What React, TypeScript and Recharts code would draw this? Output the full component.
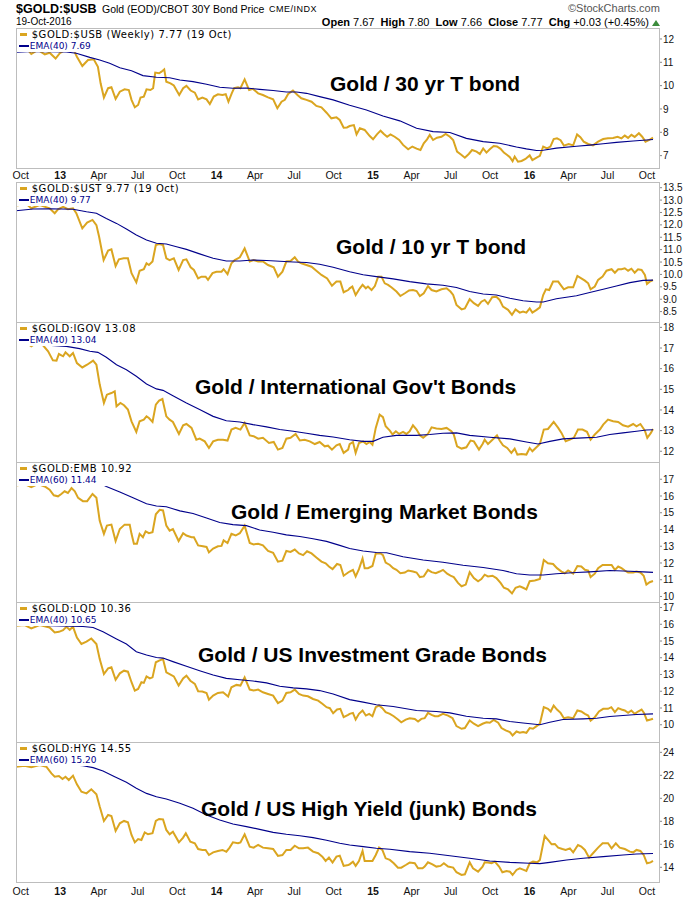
import React from "react";
import { LineChart, Line, XAxis, YAxis } from "recharts";

// x = weeks since 20 Sep 2012 (weekly bars)
const START_DATE = "2012-09-20";
const tickDates = [
  "2012-10-01", "2013-01-01", "2013-04-01", "2013-07-01", "2013-10-01", "2014-01-01",
  "2014-04-01", "2014-07-01", "2014-10-01", "2015-01-01", "2015-04-01", "2015-07-01",
  "2015-10-01", "2016-01-01", "2016-04-01", "2016-07-01", "2016-10-01",
];
const tickLabels = ["Oct", "13", "Apr", "Jul", "Oct", "14", "Apr", "Jul", "Oct", "15", "Apr", "Jul", "Oct", "16", "Apr", "Jul", "Oct"];

// $GOLD:$USB
const usbWeeks = [
  0, 3.5, 5.1, 7.3, 9.6, 11.2, 13.2, 14.6, 16.8, 19.2,
  20.3, 22.1, 24, 25.9, 27.3, 28.2, 29.3, 30.7, 31.8, 33.2,
  34.6, 36.2, 37.6, 38.5, 39.6, 40.7, 41.5, 42.6, 43.5, 44.8,
  45.7, 46.4, 47.7, 48.5, 49.4, 50.1, 51.5, 52.6, 54.4, 55.7,
  56.8, 58.2, 59.6, 60.7, 62.1, 63.5, 64.6, 65.9, 67.3, 68.8,
  69.9, 70.8, 71.9, 72.7, 74, 74.8, 76.2, 77.7, 79, 80.7,
  82.3, 84, 85.7, 87.1, 88.5, 89.6, 90.7, 92.3, 93.8, 95.1,
  96.8, 98.5, 100.1, 101.8, 103.5, 105.1, 106.8, 107.9, 109.2, 110.3,
  111.2, 112.6, 113.5, 114.6, 116.2, 117.9, 119, 120.3, 121.5, 122.6,
  123.7, 124.8, 126.2, 127.7, 129, 130.7, 132.1, 133.5, 134.8, 135.9,
  137, 137.9, 139, 140.3, 141.8, 143.2, 144.6, 145.7, 147, 148.5,
  149.6, 150.9, 152, 153.5, 154.6, 155.7, 156.8, 157.9, 159.2, 160.3,
  161.5, 162.6, 163.7, 164.6, 165.5, 166.2, 167.3, 168.5, 169.8, 171.2,
  172.1, 173.5, 174.6, 175.7, 177, 178.1, 179.2, 180.3, 181.5, 182.6,
  184.2, 185.7, 187, 188.1, 189.2, 190.7, 192.3, 194, 195.7, 197.3,
  199, 200.5, 201.8, 202.9, 204, 205.1, 206.2, 207.6, 208.7, 209.8,
  210.9, 212.3,
];
const usbRatio = [
  11.53, 11.6, 11.36, 11.53, 11.34, 11.41, 11.16, 11.39, 11.56, 11.53,
  11.24, 10.84, 11.1, 11.13, 10.81, 10.1, 9.49, 9.89, 9.93, 9.43,
  9.74, 9.84, 9.81, 9.39, 9.07, 9.17, 9.49, 9.53, 9.84, 9.81,
  9.89, 10.56, 10.53, 10.6, 10.7, 10.17, 10.1, 10.01, 9.6, 9.89,
  9.99, 9.79, 9.7, 9.41, 9.49, 9.41, 9.21, 9.53, 9.63, 9.6,
  9.63, 9.31, 9.67, 9.89, 9.93, 9.89, 10.27, 9.81, 9.86, 9.67,
  9.6, 9.5, 9.41, 9.03, 9.31, 9.39, 9.64, 9.79, 9.6, 9.46,
  9.39, 9.31, 9.13, 9.07, 8.84, 8.6, 8.64, 8.53, 8.2, 8.21,
  8.27, 8.31, 7.91, 8.17, 8.1, 7.84, 7.7, 7.91, 8.07, 7.93,
  7.81, 7.91, 7.81, 7.67, 7.46, 7.27, 7.39, 7.3, 7.24, 7.53,
  7.7, 7.89, 7.67, 7.77, 7.81, 7.93, 7.81, 7.67, 7.17, 7.03,
  6.91, 7.07, 7.24, 7.17, 7.07, 7.31, 7.13, 7.27, 7.41, 7.39,
  7.29, 7.13, 7.03, 6.93, 6.76, 6.96, 6.74, 6.77, 6.86, 7.01,
  6.81, 6.91, 6.99, 7.39, 7.31, 7.39, 7.71, 7.74, 7.66, 7.43,
  7.5, 7.44, 7.91, 7.79, 7.6, 7.5, 7.44, 7.6, 7.71, 7.74,
  7.76, 7.81, 7.74, 7.86, 7.76, 7.89, 7.8, 7.96, 7.81, 7.6,
  7.66, 7.77,
];
const usbEmaWeeks = [
  0, 5.7, 16.8, 20.1, 24.6, 27.9, 31.2, 34.6, 38.5, 42.3,
  46.8, 51.2, 54.6, 59, 63.5, 67.9, 72.3, 76.8, 81.2, 85.7,
  90.1, 93.5, 96.8, 101.2, 105.7, 111.2, 116.8, 122.3, 127.9, 133.5,
  139, 144.6, 150.1, 155.7, 161.2, 166.8, 170.1, 173.5, 175.7, 180.1,
  186.8, 191.2, 195.7, 200.1, 205.7, 212.3,
];
const usbEma = [
  11.43, 11.46, 11.44, 11.39, 11.21, 11.1, 10.96, 10.77, 10.64, 10.43,
  10.36, 10.34, 10.24, 10.17, 10.06, 9.93, 9.89, 9.9, 9.84, 9.79,
  9.73, 9.73, 9.67, 9.53, 9.39, 9.16, 8.96, 8.7, 8.49, 8.17,
  8.03, 7.99, 7.74, 7.6, 7.53, 7.37, 7.29, 7.22, 7.23, 7.32,
  7.4, 7.45, 7.51, 7.57, 7.63, 7.69,
];

// $GOLD:$UST
const ustWeeks = [
  0, 3.5, 5.1, 7.9, 11.2, 12.9, 14, 15.7, 17.3, 19,
  20.1, 22.1, 23.7, 25.5, 26.8, 27.7, 29.2, 30.7, 31.8, 33.2,
  34.3, 35.9, 37.3, 38.5, 40.1, 41.2, 42.6, 43.5, 44.3, 45.5,
  46.6, 47.7, 49, 50.1, 51.2, 52.6, 54.2, 55.7, 56.8, 58.2,
  59.3, 60.7, 61.8, 63.2, 64, 65.5, 66.8, 68.5, 69.2, 70.5,
  71.8, 72.9, 74.6, 76.2, 77.9, 79.2, 80.7, 82.3, 84, 85.9,
  87.3, 88.8, 90.1, 91.5, 92.9, 94, 95.1, 96.8, 98.5, 100.1,
  101.8, 103.7, 105.3, 106.8, 108.1, 109.2, 110.7, 111.2, 112.1, 113.2,
  114.6, 115.5, 116.6, 117.3, 118.5, 119.6, 120.7, 121.8, 122.9, 124,
  125.1, 126.8, 128.1, 129.6, 131, 132.3, 133.5, 134.6, 135.9, 137.3,
  138.5, 140.1, 141.8, 143.5, 144.8, 145.7, 146.8, 148.5, 149.6, 151.2,
  152.6, 154, 155.1, 156.2, 157.3, 158.7, 160.1, 161.2, 162.3, 164,
  165.3, 166.5, 167.9, 169, 170.1, 171.2, 172.1, 173.5, 174.6, 175.7,
  176.6, 177.7, 179, 180.7, 181.8, 182.6, 184, 185.7, 187.1, 188.4,
  189.6, 190.7, 191.5, 192.9, 194, 195.5, 196.8, 198.5, 199.6, 200.7,
  201.8, 202.9, 204, 205.1, 206.2, 207.3, 208.5, 209.6, 210.3, 211.2,
  212.3,
];
const ustRatio = [
  12.78, 12.84, 12.67, 12.8, 12.67, 12.47, 12.63, 12.73, 12.63, 12.67,
  12.47, 11.86, 12.09, 12.2, 11.99, 11.52, 10.58, 10.96, 11.01, 10.34,
  10.61, 10.65, 10.65, 10.05, 9.68, 10.15, 10.21, 10.45, 10.38, 10.52,
  11.19, 11.23, 11.19, 10.65, 10.58, 10.65, 10.18, 10.58, 10.61, 10.29,
  10.18, 9.84, 9.91, 9.91, 9.78, 10.05, 10.11, 10.11, 10.21, 10.01,
  10.45, 10.58, 10.69, 11.05, 10.52, 10.58, 10.52, 10.52, 10.38, 10.29,
  9.91, 10.11, 10.52, 10.54, 10.69, 10.52, 10.45, 10.38, 10.31, 10.15,
  9.98, 9.84, 9.54, 9.71, 9.71, 9.28, 9.37, 9.44, 9.51, 9.17,
  9.44, 9.58, 9.44, 9.51, 9.37, 9.53, 9.91, 9.91, 9.64, 9.58,
  9.48, 9.31, 9.13, 9.24, 9.35, 9.37, 9.33, 9.13, 9.24, 9.53,
  9.37, 9.31, 9.4, 9.44, 9.31, 9.17, 8.77, 8.59, 8.63, 9.0,
  8.84, 8.73, 8.9, 8.97, 8.81, 9.08, 9.1, 8.97, 8.7, 8.57,
  8.37, 8.59, 8.46, 8.5, 8.46, 8.63, 8.46, 8.57, 8.67, 9.17,
  9.4, 9.37, 9.71, 9.71, 9.53, 9.4, 9.48, 9.48, 9.94, 9.84,
  9.75, 9.64, 9.4, 9.51, 9.78, 9.91, 10.15, 10.21, 10.07, 10.21,
  10.21, 10.25, 10.15, 10.23, 10.07, 10.21, 10.18, 9.98, 9.62, 9.71,
  9.77,
];
const ustEmaWeeks = [
  0, 5.7, 11.2, 19, 23.5, 26.8, 30.1, 33.5, 36.8, 40.1,
  43.5, 46.8, 50.1, 53.5, 56.8, 61.2, 65.7, 70.1, 74.6, 79,
  83.5, 87.9, 92.4, 96.8, 101.2, 105.7, 111.2, 115.7, 120.1, 125.7,
  131.2, 136.8, 142.3, 146.8, 151.2, 155.7, 160.1, 164.6, 169, 173.5,
  175.7, 180.1, 186.8, 191.2, 195.7, 200.1, 204.6, 209, 212.3,
];
const ustEma = [
  12.57, 12.64, 12.65, 12.63, 12.53, 12.47, 12.26, 12.06, 11.83, 11.59,
  11.39, 11.26, 11.23, 11.12, 11.01, 10.83, 10.65, 10.54, 10.54, 10.58,
  10.56, 10.53, 10.5, 10.48, 10.41, 10.29, 10.11, 9.99, 9.91, 9.82,
  9.71, 9.62, 9.56, 9.47, 9.31, 9.21, 9.17, 9.04, 8.94, 8.89,
  8.89, 9.02, 9.14, 9.27, 9.4, 9.53, 9.67, 9.76, 9.77,
];

// $GOLD:IGOV
const igovWeeks = [
  0, 2.9, 5.1, 7.3, 9, 10.7, 12.3, 13.5, 14.3, 15.7,
  16.5, 17.9, 19, 20.3, 22.1, 23.7, 25.7, 26.8, 27.9, 29.3,
  30.3, 31.8, 32.9, 33.5, 34.8, 36, 37.3, 38.5, 40.1, 41.2,
  42.6, 43.5, 44.3, 45.5, 46.6, 47.7, 48.8, 50.1, 51.2, 52.3,
  54.3, 55.7, 56.8, 58.5, 60.1, 61.2, 62.9, 64.3, 65.7, 67.3,
  69, 70.5, 71.8, 73.2, 74.8, 76.2, 77.9, 79.2, 80.7, 82.3,
  84.3, 85.9, 87.3, 88.8, 90.1, 91.5, 93.2, 94.6, 96.2, 97.9,
  99.6, 101.2, 102.9, 104, 105.3, 106.8, 107.9, 109.2, 110.7, 111.2,
  112.3, 113.2, 114.3, 115.7, 116.8, 117.9, 118.8, 119.9, 121.2, 122.3,
  123.2, 124.6, 125.5, 126.6, 127.7, 129, 130.1, 131.2, 132.3, 133.5,
  134.6, 135.7, 137.3, 138.5, 140.1, 141.8, 143.5, 145.1, 145.9, 147,
  148.5, 150.1, 151.5, 152.6, 154.3, 155.5, 156.2, 157.3, 158.8, 160.3,
  161.2, 162.3, 163.7, 165.1, 166.2, 167.1, 168.5, 170.1, 171.2, 172.1,
  173.2, 174.6, 175.9, 177.3, 179.2, 180.7, 181.8, 183.2, 184.6, 185.9,
  187.3, 188.8, 190.3, 191.5, 192.9, 194.6, 195.7, 197.3, 199, 200.7,
  202.3, 204, 205.7, 206.8, 208.1, 209.6, 210.4, 211.6, 212.3,
];
const igovRatio = [
  17.24, 17.32, 17.08, 17.29, 17.13, 16.84, 16.4, 16.39, 16.71, 16.6,
  16.79, 16.6, 16.76, 16.27, 16.06, 16.19, 16.39, 16.19, 15.23, 14.34,
  14.74, 14.82, 14.9, 14.18, 14.34, 14.23, 14.02, 13.45, 12.94, 13.45,
  13.53, 13.69, 13.61, 13.42, 14.26, 14.45, 14.53, 13.69, 13.53, 13.42,
  12.84, 13.26, 13.32, 13.13, 12.56, 12.61, 12.48, 12.16, 12.48, 12.56,
  12.56, 12.52, 13.05, 13.13, 13.05, 13.37, 12.77, 12.73, 12.61, 12.65,
  12.4, 12.45, 12.08, 12.16, 12.61, 12.65, 12.84, 12.52, 12.56, 12.48,
  12.35, 12.45, 12.24, 12.27, 12.08, 12.29, 12.35, 11.92, 12.08, 12.35,
  12.45, 11.92, 12.4, 12.48, 12.35, 12.45, 12.32, 13.13, 13.77, 13.65,
  13.21, 13.0, 12.81, 12.97, 12.84, 12.94, 12.84, 12.97, 13.26, 13.05,
  12.77, 12.65, 12.84, 13.16, 13.1, 13.08, 13.13, 12.97, 12.81, 12.24,
  12.13, 12.19, 12.52, 12.48, 12.08, 12.35, 12.56, 12.35, 12.56, 12.77,
  12.52, 12.29, 12.16, 11.92, 12.13, 11.84, 11.87, 11.84, 12.16, 12.0,
  12.16, 12.35, 13.05, 13.08, 13.42, 13.13, 12.89, 12.48, 12.56, 12.65,
  13.05, 13.05, 12.94, 12.56, 12.81, 13.05, 13.29, 13.53, 13.45, 13.42,
  13.26, 13.19, 13.32, 13.21, 13.32, 13.0, 12.65, 12.89, 13.08,
];
const igovEmaWeeks = [
  0, 7.9, 16.8, 21.2, 24.6, 27.3, 30.1, 33.5, 36.8, 40.1,
  43.5, 46.8, 49, 52.3, 56.8, 61.2, 65.7, 70.1, 74.6, 79,
  83.5, 87.9, 92.4, 96.8, 101.2, 105.7, 111.2, 115.7, 119, 122.3,
  126.8, 133.5, 137.9, 142.3, 146.8, 151.2, 157.9, 164.6, 170.1, 174,
  177.9, 182.3, 189, 193.5, 197.9, 202.3, 206.8, 210.1, 212.3,
];
const igovEma = [
  17.19, 17.16, 17.08, 16.97, 16.84, 16.79, 16.55, 16.19, 15.95, 15.63,
  15.26, 15.02, 14.95, 14.69, 14.34, 14.02, 13.69, 13.48, 13.42, 13.29,
  13.18, 13.05, 12.97, 12.87, 12.77, 12.69, 12.56, 12.48, 12.48, 12.68,
  12.77, 12.77, 12.81, 12.87, 12.89, 12.77, 12.68, 12.6, 12.45, 12.35,
  12.48, 12.6, 12.65, 12.68, 12.81, 12.89, 12.97, 13.03, 13.04,
];

// $GOLD:EMB
const embWeeks = [
  0, 2.9, 5.1, 7.3, 9.6, 11.2, 12.6, 14, 15.1, 16.2,
  17.3, 18.5, 19.6, 20.7, 22.3, 23.7, 25.5, 26.8, 27.9, 29.3,
  30.3, 31.8, 33.2, 34.6, 36.2, 37.9, 38.5, 39.3, 40.3, 41.2,
  42.3, 43.2, 44.3, 45.5, 46.6, 47.9, 49, 50.1, 51.2, 52.3,
  54.2, 55.7, 56.8, 58.5, 59.3, 60.7, 62.3, 63.5, 64.3, 65.7,
  67.3, 68.5, 69.2, 70.5, 71.8, 73.2, 74.6, 76.2, 77.9, 79.2,
  80.7, 82.3, 84, 85.7, 87.3, 88.8, 90.1, 91.5, 92.9, 94.3,
  95.7, 97, 98.5, 100.1, 101.8, 103.2, 104.3, 105.5, 107, 108.1,
  109.2, 110.7, 111.2, 112.3, 113.2, 114.3, 115.5, 116.2, 117.3, 118.8,
  119.9, 121.5, 122.3, 123.2, 124.6, 125.7, 126.8, 128.1, 129.6, 130.7,
  132.3, 133.5, 134.6, 135.9, 137.3, 138.5, 139.9, 141.2, 142.3, 143.7,
  144.8, 145.9, 147.3, 148.5, 149.9, 151.2, 152.6, 154, 155.1, 156.2,
  157.3, 158.8, 160.1, 161.5, 162.6, 164, 165.3, 166.5, 167.9, 169,
  170.1, 171.2, 172.9, 174.6, 175.9, 177.3, 179, 180.3, 181.8, 182.9,
  184, 185.7, 187.1, 188.4, 189.6, 190.7, 191.5, 192.9, 194, 195.5,
  196.8, 198.5, 199.6, 200.7, 201.8, 202.9, 204, 205.7, 206.8, 208.1,
  209.2, 210.1, 211.2, 212.3,
];
const embRatio = [
  16.63, 16.71, 16.53, 16.71, 16.57, 16.38, 16.04, 15.98, 16.12, 16.28,
  16.18, 16.47, 16.28, 15.89, 15.69, 15.69, 16.12, 15.89, 14.52, 13.74,
  14.23, 14.29, 13.31, 14.03, 14.29, 14.29, 13.74, 13.15, 13.15, 13.74,
  13.54, 13.89, 13.78, 13.84, 14.91, 15.18, 15.14, 14.23, 13.93, 14.03,
  13.31, 13.78, 13.64, 13.54, 13.54, 13.05, 13.0, 12.96, 12.63, 12.86,
  13.0, 13.02, 13.35, 13.19, 13.74, 13.64, 13.78, 14.23, 13.19, 13.11,
  13.15, 13.05, 12.72, 12.61, 12.08, 12.14, 12.72, 12.66, 12.8, 12.57,
  12.47, 12.7, 12.57, 12.33, 12.08, 11.98, 11.79, 11.63, 11.94, 11.88,
  11.24, 11.43, 11.49, 11.59, 11.2, 11.63, 12.27, 11.69, 11.69, 11.82,
  12.57, 12.57, 12.47, 12.02, 11.88, 11.69, 11.59, 11.39, 11.43, 11.55,
  11.49, 11.43, 11.16, 11.2, 11.59, 11.45, 11.39, 11.49, 11.59, 11.36,
  11.24, 11.16, 10.81, 10.61, 10.71, 11.45, 11.1, 10.91, 11.04, 11.3,
  11.2, 11.24, 11.1, 10.81, 10.52, 10.42, 10.18, 10.52, 10.61, 10.52,
  10.42, 10.91, 10.96, 11.04, 12.18, 11.98, 11.94, 11.69, 11.49, 11.39,
  11.55, 11.36, 11.82, 11.79, 11.59, 11.55, 11.16, 11.36, 11.69, 11.88,
  11.88, 11.88, 11.59, 11.79, 11.69, 11.55, 11.43, 11.43, 11.49, 11.43,
  11.24, 10.71, 10.85, 10.92,
];
const embEmaWeeks = [
  0, 11.2, 20.1, 26.8, 30.1, 34.6, 39, 43.5, 46.8, 50.1,
  54.6, 59, 63.5, 67.9, 72.3, 76.8, 81.2, 85.7, 90.1, 94.6,
  99, 103.5, 107.9, 111.2, 115.7, 120.1, 123.5, 129, 135.7, 142.3,
  149, 155.7, 162.3, 166.8, 171.2, 175.7, 180.1, 186.8, 191.2, 197.9,
  204.6, 209, 212.3,
];
const embEma = [
  17.41, 17.29, 17.1, 16.86, 16.57, 16.24, 15.89, 15.54, 15.4, 15.36,
  15.11, 14.95, 14.68, 14.42, 14.29, 14.23, 13.97, 13.84, 13.68, 13.58,
  13.45, 13.29, 13.05, 12.86, 12.72, 12.63, 12.61, 12.37, 12.18, 12.04,
  11.86, 11.73, 11.55, 11.36, 11.28, 11.28, 11.36, 11.43, 11.47, 11.55,
  11.51, 11.47, 11.44,
];

// $GOLD:LQD
const lqdWeeks = [
  0, 2.9, 5.1, 7.9, 11.2, 12.9, 14.3, 15.7, 16.8, 17.9,
  19, 20.3, 21.8, 23.5, 25.1, 26.8, 27.9, 29.3, 30.7, 31.8,
  33.2, 34.6, 36, 37.3, 38.5, 39.6, 40.7, 41.8, 42.6, 43.5,
  44.6, 45.5, 46.6, 47.7, 49, 50.1, 51.2, 52.6, 54.2, 55.7,
  56.8, 58.1, 59.6, 60.7, 62.1, 63.5, 64.3, 65.7, 67.3, 69,
  70.7, 71.8, 73.5, 74.8, 76.2, 77.9, 79.2, 80.7, 82.3, 84,
  85.7, 87.3, 88.8, 90.1, 91.5, 92.9, 94.3, 95.7, 97.3, 99,
  100.7, 102.1, 103.5, 104.6, 105.7, 107, 108.1, 109.2, 110.7, 111.2,
  112.3, 113.2, 114.3, 115.5, 116.6, 117.7, 118.8, 119.9, 121, 122.1,
  123.2, 124.6, 125.9, 127.3, 128.4, 129.9, 131.2, 132.9, 134, 135.1,
  136.2, 137.3, 138.5, 139.6, 140.7, 142.3, 144, 145.5, 146.8, 148.5,
  149.6, 151.2, 152.6, 154, 155.5, 156.8, 157.9, 159.2, 160.7, 161.8,
  163.2, 164.6, 165.5, 166.8, 167.9, 169, 170.1, 171.2, 172.3, 173.5,
  174.6, 175.9, 177.3, 178.2, 179.2, 180.3, 181.5, 182.6, 184, 185.7,
  187.1, 188.4, 189.6, 190.7, 191.5, 192.9, 194.3, 195.7, 197.3, 198.4,
  199.6, 200.7, 201.8, 202.9, 204, 205.1, 206.2, 207.3, 208.5, 209.3,
  210.3, 211.5, 212.3,
];
const lqdRatio = [
  15.91, 15.95, 15.75, 15.95, 15.81, 15.51, 15.55, 15.65, 15.85, 15.67,
  15.85, 15.21, 14.82, 14.96, 15.15, 14.82, 13.92, 13.03, 13.37, 13.43,
  12.69, 13.07, 13.23, 13.17, 12.54, 12.04, 12.14, 12.54, 12.5, 12.89,
  12.77, 12.83, 13.73, 13.83, 13.92, 13.13, 13.03, 12.89, 12.34, 12.77,
  12.93, 12.63, 12.44, 12.0, 11.98, 11.9, 11.5, 11.74, 11.9, 11.94,
  11.68, 12.24, 12.38, 12.34, 12.83, 12.1, 12.04, 12.1, 11.94, 11.84,
  11.74, 11.29, 11.44, 11.9, 11.94, 12.1, 11.84, 11.74, 11.7, 11.54,
  11.44, 11.25, 11.05, 10.99, 10.69, 10.91, 10.95, 10.45, 10.59, 10.65,
  10.71, 10.31, 10.65, 10.85, 10.55, 10.65, 10.51, 11.05, 11.15, 10.99,
  10.75, 10.65, 10.51, 10.31, 10.15, 10.31, 10.39, 10.35, 10.19, 10.35,
  10.39, 10.71, 10.59, 10.51, 10.51, 10.65, 10.55, 10.39, 9.92, 9.76,
  9.8, 10.25, 10.06, 9.92, 10.06, 10.15, 10.12, 10.29, 10.12, 9.8,
  9.66, 9.56, 9.36, 9.6, 9.52, 9.56, 9.52, 9.8, 9.76, 9.92,
  10.06, 11.05, 10.95, 10.79, 11.15, 10.91, 10.71, 10.39, 10.45, 10.39,
  10.85, 10.79, 10.65, 10.55, 10.25, 10.45, 10.79, 10.95, 10.95, 11.05,
  10.75, 10.99, 10.91, 10.85, 10.71, 10.85, 10.65, 10.79, 10.91, 10.71,
  10.25, 10.31, 10.36,
];
const lqdEmaWeeks = [
  0, 11.2, 22.3, 25.7, 29, 33.5, 36.8, 40.1, 43.5, 46.8,
  49, 52.3, 56.8, 61.2, 65.7, 70.1, 74.6, 79, 83.5, 87.9,
  92.4, 96.8, 101.2, 105.7, 111.2, 115.7, 120.1, 125.7, 133.5, 140.1,
  144.6, 150.1, 155.7, 160.1, 164.6, 169, 174.6, 177.9, 182.3, 189,
  193.5, 197.9, 202.3, 206.8, 212.3,
];
const lqdEma = [
  16.01, 15.91, 15.87, 15.81, 15.55, 15.12, 14.82, 14.36, 14.16, 14.02,
  13.98, 13.77, 13.49, 13.23, 12.97, 12.77, 12.69, 12.61, 12.5, 12.3,
  12.2, 12.14, 12.04, 11.84, 11.5, 11.35, 11.19, 11.09, 10.85, 10.79,
  10.71, 10.51, 10.39, 10.35, 10.19, 10.1, 10.0, 10.15, 10.31, 10.35,
  10.39, 10.49, 10.55, 10.61, 10.65,
];

// $GOLD:HYG
const hygWeeks = [
  0, 2.9, 5.1, 7.9, 10.1, 11.8, 12.9, 14.3, 15.5, 16.5,
  17.6, 19, 20.3, 21.8, 23.5, 25.1, 26.8, 27.9, 29.3, 30.7,
  31.8, 33.2, 34.6, 36, 37.3, 38.5, 39.6, 40.7, 41.8, 42.9,
  44, 45.5, 46.6, 47.7, 49, 50.1, 51.2, 52.3, 54.3, 55.7,
  56.6, 58.1, 59.6, 60.7, 62.1, 63.2, 64.3, 65.7, 67.3, 68.8,
  70.1, 71.2, 72.3, 74, 74.8, 76.2, 77.9, 79.2, 80.7, 82.3,
  84, 85.7, 87.3, 88.8, 90.1, 91.5, 92.9, 94.3, 95.7, 97.3,
  99, 100.7, 102.1, 103.2, 104.3, 105.5, 106.8, 107.9, 109.2, 110.7,
  111.2, 112.3, 113.2, 114.3, 115.5, 116.2, 117.7, 118.8, 119.9, 121,
  122.1, 123.2, 124.6, 125.9, 127.3, 128.4, 129.9, 131.2, 132.9, 134,
  135.5, 136.2, 137.3, 138.8, 140.1, 141.5, 142.6, 144, 145.7, 146.8,
  148.5, 149.6, 151.2, 152.3, 154, 155.5, 156.2, 157.3, 158.5, 159.6,
  161, 162.1, 163.5, 164.6, 165.5, 166.8, 167.9, 169, 170.1, 171.2,
  172.3, 173.7, 174.6, 176.2, 177.6, 178.5, 179.6, 180.7, 182.1, 183.2,
  184.6, 185.7, 187.3, 188.4, 189.6, 191, 192.3, 194, 195.5, 197.3,
  198.5, 199.9, 201.2, 202.9, 204.6, 205.7, 206.8, 208.1, 209.2, 210.3,
  211.5, 212.3,
];
const hygRatio = [
  22.75, 22.84, 22.7, 22.9, 22.75, 22.17, 21.88, 21.94, 21.68, 21.88,
  21.59, 21.97, 21.22, 20.58, 20.43, 20.78, 20.35, 19.28, 18.03, 18.55,
  18.46, 17.16, 17.83, 18.03, 17.91, 16.81, 16.17, 16.46, 16.38, 17.04,
  16.87, 16.96, 18.03, 18.2, 18.17, 17.25, 16.87, 17.1, 16.17, 16.58,
  16.96, 16.23, 16.09, 15.59, 15.51, 15.51, 15.07, 15.3, 15.42, 15.51,
  15.36, 15.71, 16.17, 16.09, 16.17, 16.87, 15.8, 15.71, 15.94, 15.71,
  15.65, 15.59, 14.99, 15.07, 15.51, 15.51, 15.88, 15.65, 15.65, 15.71,
  15.36, 15.22, 14.93, 14.55, 14.84, 14.41, 14.93, 15.01, 14.12, 14.2,
  14.26, 14.49, 14.12, 14.55, 15.42, 14.55, 14.55, 14.55, 15.07, 15.71,
  15.51, 14.78, 14.64, 14.35, 13.97, 13.97, 14.2, 14.41, 14.35, 13.91,
  13.91, 14.06, 14.43, 14.26, 14.06, 14.12, 14.35, 14.06, 13.97, 13.57,
  13.33, 13.39, 14.43, 13.91, 13.62, 14.06, 14.43, 14.41, 14.35, 14.49,
  14.06, 13.57, 13.68, 13.62, 13.33, 13.77, 13.91, 13.8, 13.68, 14.35,
  14.49, 14.43, 14.64, 16.72, 16.29, 16.0, 16.03, 15.71, 15.59, 15.51,
  15.65, 15.3, 15.94, 15.8, 15.51, 14.84, 15.22, 15.71, 16.09, 16.09,
  15.65, 16.09, 15.71, 15.59, 15.36, 15.3, 15.51, 15.42, 15.07, 14.35,
  14.43, 14.55,
];
const hygEmaWeeks = [
  0, 11.2, 22.3, 25.7, 29, 32.9, 36.8, 40.1, 43.5, 46.8,
  50.1, 54.6, 59, 63.5, 67.9, 72.3, 76.8, 81.2, 85.7, 90.1,
  94.6, 99, 103.5, 107.9, 111.2, 115.7, 120.1, 124.6, 131.2, 137.9,
  144.6, 151.2, 157.9, 164.6, 171.2, 174.6, 177.9, 183.5, 189, 195.7,
  202.3, 206.8, 212.3,
];
const hygEma = [
  23.25, 23.07, 22.84, 22.67, 22.38, 21.88, 21.39, 20.87, 20.43, 20.14,
  19.94, 19.57, 19.13, 18.55, 18.12, 17.77, 17.54, 17.3, 17.04, 16.87,
  16.75, 16.58, 16.35, 16.09, 15.94, 15.8, 15.65, 15.57, 15.36, 15.22,
  15.01, 14.78, 14.55, 14.43, 14.35, 14.32, 14.43, 14.64, 14.78, 14.93,
  15.07, 15.16, 15.2,
];

const FONT = '"Liberation Sans", Arial, Helvetica, sans-serif';
const GOLD = "#DAA520";
const NAVY = "#00008B";
const BORDER = "#bdbdbd";
const WEEK_MS = 7 * 24 * 3600 * 1000;
const tickWeeks = tickDates.map((d) => (Date.parse(d) - Date.parse(START_DATE)) / WEEK_MS);
const X_DOMAIN: [number, number] = [0, 214.3];

const zip = (ws: number[], vs: number[]) => ws.map((w, i) => ({ w, v: vs[i] }));

const panels = [
  {
    top: 28, axisH: 14, tickDy: 11, domain: [6.47, 12.47], ticks: [7, 8, 9, 10, 11, 12], dec: 0,
    gold: zip(usbWeeks, usbRatio), ema: zip(usbEmaWeeks, usbEma),
    leg1: "$GOLD:$USB (Weekly) 7.77 (19 Oct)", leg2: "EMA(40) 7.69",
  },
  {
    top: 182, axisH: 0, tickDy: 0, domain: [8.08, 13.73], ticks: [8.5, 9, 9.5, 10, 10.5, 11, 11.5, 12, 12.5, 13, 13.5], dec: 1,
    gold: zip(ustWeeks, ustRatio), ema: zip(ustEmaWeeks, ustEma),
    leg1: "$GOLD:$UST 9.77 (19 Oct)", leg2: "EMA(40) 9.77",
  },
  {
    top: 322, axisH: 0, tickDy: 0, domain: [11.48, 18.26], ticks: [12, 13, 14, 15, 16, 17, 18], dec: 0,
    gold: zip(igovWeeks, igovRatio), ema: zip(igovEmaWeeks, igovEma),
    leg1: "$GOLD:IGOV 13.08", leg2: "EMA(40) 13.04",
  },
  {
    top: 462, axisH: 0, tickDy: 0, domain: [9.67, 18.03], ticks: [10, 11, 12, 13, 14, 15, 16, 17], dec: 0,
    gold: zip(embWeeks, embRatio), ema: zip(embEmaWeeks, embEma),
    leg1: "$GOLD:EMB 10.92", leg2: "EMA(60) 11.44",
  },
  {
    top: 602, axisH: 0, tickDy: 0, domain: [8.97, 17.33], ticks: [10, 11, 12, 13, 14, 15, 16, 17], dec: 0,
    gold: zip(lqdWeeks, lqdRatio), ema: zip(lqdEmaWeeks, lqdEma),
    leg1: "$GOLD:LQD 10.36", leg2: "EMA(40) 10.65",
  },
  {
    top: 742, axisH: 18, tickDy: 12.5, domain: [12.72, 24.9], ticks: [14, 16, 18, 20, 22, 24], dec: 0,
    gold: zip(hygWeeks, hygRatio), ema: zip(hygEmaWeeks, hygEma),
    leg1: "$GOLD:HYG 14.55", leg2: "EMA(60) 15.20",
  },
];

const titles = [
  { text: "Gold / 30 yr T bond", left: 330, top: 73 },
  { text: "Gold / 10 yr T bond", left: 336, top: 236 },
  { text: "Gold / International Gov't Bonds", left: 195, top: 376 },
  { text: "Gold / Emerging Market Bonds", left: 231, top: 501 },
  { text: "Gold / US Investment Grade Bonds", left: 198, top: 644 },
  { text: "Gold / US High Yield (junk) Bonds", left: 201, top: 798 },
];

function DateTick(props: any) {
  const { x, y, payload, dy } = props;
  const i = tickWeeks.indexOf(payload.value);
  const label = i >= 0 ? tickLabels[i] : "";
  const isYear = /^\d+$/.test(label);
  return (
    <text x={x} y={y} dy={dy} textAnchor="middle" fontSize={10.5} fontFamily={FONT}
      fontWeight={isYear ? 700 : 400} fill="#111">
      {label}
    </text>
  );
}

function Panel({ p }: { p: (typeof panels)[number] }) {
  const h = 140 + p.axisH;
  return (
    <div style={{ position: "absolute", left: 0, top: p.top, width: 700, height: h }}>
      <LineChart width={700} height={h} margin={{ top: 0, right: 0, bottom: 0, left: 16 }}>
        <XAxis
          type="number" dataKey="w" domain={X_DOMAIN} allowDataOverflow ticks={tickWeeks} interval={0}
          hide={p.axisH === 0} height={p.axisH} axisLine={false} tickLine={false} tickSize={0} tickMargin={0}
          tick={<DateTick dy={p.tickDy} />}
        />
        <YAxis
          orientation="right" width={41} domain={p.domain} allowDataOverflow ticks={p.ticks} interval={0}
          axisLine={false} tickSize={3} tickMargin={1} tickLine={{ stroke: "#888" }}
          tickFormatter={(v: number) => v.toFixed(p.dec)}
          tick={{ fontSize: 10, fill: "#111", fontFamily: FONT }}
        />
        <Line data={p.gold} dataKey="v" type="linear" stroke={GOLD} strokeWidth={2} dot={false} isAnimationActive={false} />
        <Line data={p.ema} dataKey="v" type="linear" stroke={NAVY} strokeWidth={1.1} dot={false} isAnimationActive={false} />
      </LineChart>
      <div style={{
        position: "absolute", left: 16, top: 0, width: 644, height: 141, boxSizing: "border-box",
        border: `1px solid ${BORDER}`, pointerEvents: "none",
      }} />
      <div style={{ position: "absolute", left: 17, top: 1, background: "#fff", paddingRight: 3 }}>
        <div style={{ height: 11, display: "flex", alignItems: "center", whiteSpace: "nowrap" }}>
          <span style={{ display: "inline-block", width: 7, height: 2.5, background: GOLD, marginLeft: 2.7, marginRight: 5 }} />
          <span style={{ fontFamily: '"DejaVu Sans", Verdana, sans-serif', fontSize: 10, letterSpacing: 0.55, color: "#000" }}>{p.leg1}</span>
        </div>
        <div style={{ height: 11.5, display: "flex", alignItems: "center", whiteSpace: "nowrap" }}>
          <span style={{ display: "inline-block", width: 10, height: 1.6, background: NAVY, marginLeft: 2.3, marginRight: 0.5 }} />
          <span style={{ fontFamily: '"DejaVu Sans", Verdana, sans-serif', fontSize: 9, color: NAVY }}>{p.leg2}</span>
        </div>
      </div>
    </div>
  );
}

export default function App() {
  return (
    <div style={{ position: "absolute", left: 0, top: 0, width: 700, height: 900, background: "#fff", overflow: "hidden", fontFamily: FONT }}>
      <div style={{ position: "absolute", left: 16, top: 2.5, fontSize: 12.5, lineHeight: "12.5px", fontWeight: 700, whiteSpace: "nowrap" }}>
        $GOLD:$USB
      </div>
      <div style={{ position: "absolute", left: 102, top: 3.8, fontSize: 10.5, lineHeight: "10.5px", whiteSpace: "nowrap" }}>
        Gold (EOD)/CBOT 30Y Bond Price
      </div>
      <div style={{ position: "absolute", left: 269, top: 5.2, fontSize: 9, lineHeight: "9px", letterSpacing: 0.5, whiteSpace: "nowrap" }}>
        CME/INDX
      </div>
      <div style={{ position: "absolute", left: 16, top: 17.2, fontSize: 10, lineHeight: "10px", whiteSpace: "nowrap" }}>
        19-Oct-2016
      </div>
      <div style={{ position: "absolute", left: 568, top: 3, fontSize: 11, lineHeight: "11px", color: "#555", whiteSpace: "nowrap" }}>
        ©StockCharts.com
      </div>
      <div style={{ position: "absolute", right: 51, top: 16.7, fontSize: 11, lineHeight: "11px", whiteSpace: "pre" }}>
        <b>Open</b> 7.67  <b>High</b> 7.80  <b>Low</b> 7.66  <b>Close</b> 7.77  <b>Chg</b> +0.03 (+0.45%)
      </div>
      <div style={{
        position: "absolute", left: 652, top: 19.5, width: 0, height: 0,
        borderLeft: "4px solid transparent", borderRight: "4px solid transparent", borderBottom: "6px solid #3c8c3c",
      }} />
      {panels.map((p, i) => <Panel key={i} p={p} />)}
      {titles.map((t, i) => (
        <div key={i} style={{
          position: "absolute", left: t.left, top: t.top, fontSize: 21, lineHeight: "21px",
          fontWeight: 700, whiteSpace: "nowrap", color: "#000",
        }}>
          {t.text}
        </div>
      ))}
    </div>
  );
}
